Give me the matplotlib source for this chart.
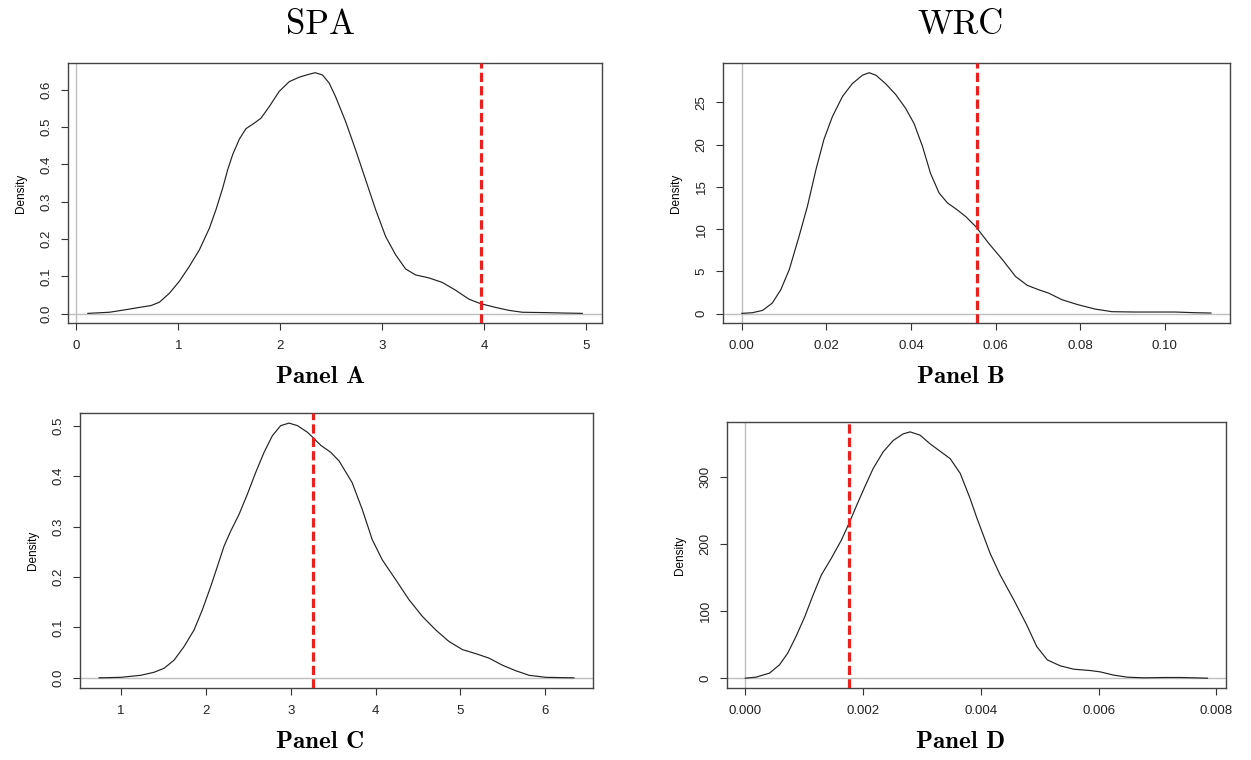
import matplotlib
matplotlib.use("Agg")
import matplotlib.pyplot as plt

plt.rcParams['font.family'] = ['Liberation Sans', 'DejaVu Sans']

# density curves
a_x = [0.114, 0.326, 0.489, 0.62, 0.734, 0.816, 0.914, 1.011, 1.109, 1.207, 1.305, 1.370,
       1.436, 1.485, 1.533, 1.599, 1.664, 1.746, 1.811, 1.892, 1.990, 2.088, 2.186, 2.284,
       2.343, 2.414, 2.480, 2.542, 2.641, 2.739, 2.837, 2.935, 3.033, 3.131, 3.229, 3.327,
       3.458, 3.588, 3.719, 3.850, 3.964, 4.111, 4.242, 4.373, 4.601, 4.765, 4.961]
a_y = [0.001, 0.004, 0.011, 0.017, 0.022, 0.031, 0.055, 0.087, 0.127, 0.171, 0.229, 0.279,
       0.337, 0.386, 0.426, 0.468, 0.496, 0.511, 0.524, 0.555, 0.596, 0.622, 0.634, 0.642,
       0.646, 0.640, 0.618, 0.582, 0.515, 0.439, 0.359, 0.279, 0.207, 0.158, 0.120, 0.104,
       0.096, 0.084, 0.063, 0.039, 0.027, 0.017, 0.009, 0.004, 0.003, 0.002, 0.001]
a_line = 3.966

b_x = [0.0, 0.0025, 0.0049, 0.0072, 0.0092, 0.0112, 0.0135, 0.0155, 0.0175, 0.0194, 0.0214,
       0.0238, 0.0261, 0.0285, 0.0301, 0.0317, 0.034, 0.0364, 0.0387, 0.0407, 0.0427, 0.0446,
       0.0466, 0.0486, 0.0506, 0.0529, 0.0553, 0.0584, 0.0616, 0.0647, 0.0675, 0.0702,
       0.0725, 0.0757, 0.0795, 0.0835, 0.0875, 0.0929, 0.0976, 0.1024, 0.1071, 0.1109]
b_y = [0.04, 0.12, 0.39, 1.26, 2.83, 5.2, 9.1, 12.7, 17.0, 20.6, 23.3, 25.7, 27.2, 28.2, 28.5,
       28.2, 27.2, 25.9, 24.3, 22.5, 19.8, 16.6, 14.3, 13.1, 12.4, 11.5, 10.3, 8.3, 6.4, 4.4,
       3.35, 2.83, 2.44, 1.65, 1.06, 0.55, 0.24, 0.20, 0.20, 0.20, 0.12, 0.08]
b_line = 0.0557

c_x = [0.741, 0.996, 1.232, 1.389, 1.507, 1.625, 1.743, 1.861, 1.959, 2.057, 2.136, 2.214,
       2.293, 2.391, 2.489, 2.587, 2.686, 2.784, 2.882, 2.980, 3.079, 3.196, 3.259, 3.354,
       3.472, 3.570, 3.606, 3.724, 3.843, 3.961, 4.079, 4.236, 4.394, 4.551, 4.709, 4.866,
       5.024, 5.181, 5.339, 5.496, 5.654, 5.811, 6.008, 6.339]
c_y = [0.0, 0.001, 0.005, 0.011, 0.019, 0.035, 0.062, 0.095, 0.135, 0.181, 0.221, 0.261,
       0.291, 0.324, 0.364, 0.407, 0.447, 0.480, 0.500, 0.505, 0.500, 0.487, 0.477, 0.461,
       0.447, 0.430, 0.420, 0.387, 0.334, 0.274, 0.234, 0.195, 0.155, 0.122, 0.095, 0.072,
       0.056, 0.048, 0.039, 0.025, 0.014, 0.005, 0.001, 0.0]
c_line = 3.259

d_x = [0.0, 0.00018, 0.00041, 0.00058, 0.00072, 0.00086, 0.00101, 0.00115, 0.00129,
       0.00146, 0.00163, 0.00176, 0.00189, 0.00203, 0.00217, 0.00234, 0.00251, 0.00268,
       0.0028, 0.00297, 0.00314, 0.00331, 0.00348, 0.00365, 0.00382, 0.00393, 0.00416,
       0.00433, 0.00456, 0.00478, 0.00495, 0.00513, 0.00535, 0.00558, 0.00586, 0.00603,
       0.00626, 0.00649, 0.00677, 0.00711, 0.0074, 0.00763, 0.00785]
d_y = [0.0, 1.5, 7.5, 19.9, 37.3, 62.1, 91.9, 124, 154, 179, 206, 231, 258, 286, 313, 338,
       355, 365, 368, 363, 350, 339, 328, 306, 268, 240, 186, 154, 117, 79.5, 47.2, 27.3,
       18.4, 13.4, 11.4, 9.4, 4.5, 1.5, 0.5, 1.0, 1.0, 0.5, 0.0]
d_line = 0.00176

a_xt = [0, 1, 2, 3, 4, 5]
a_yt = [0.0, 0.1, 0.2, 0.3, 0.4, 0.5, 0.6]
b_xt = [0.0, 0.02, 0.04, 0.06, 0.08, 0.10]
b_yt = [0, 5, 10, 15, 20, 25]
c_xt = [1, 2, 3, 4, 5, 6]
c_yt = [0.0, 0.1, 0.2, 0.3, 0.4, 0.5]
d_xt = [0.0, 0.002, 0.004, 0.006, 0.008]
d_yt = [0, 100, 200, 300]

panels = [
    (a_x, a_y, a_line, a_xt, a_yt, '{:.0f}', '{:.1f}', [0.0544, 0.575, 0.4269, 0.342]),
    (b_x, b_y, b_line, b_xt, b_yt, '{:.2f}', '{:.0f}', [0.578, 0.575, 0.405, 0.342]),
    (c_x, c_y, c_line, c_xt, c_yt, '{:.0f}', '{:.1f}', [0.064, 0.0947, 0.410, 0.362]),
    (d_x, d_y, d_line, d_xt, d_yt, '{:.3f}', '{:.0f}', [0.581, 0.0947, 0.399, 0.350]),
]

fig = plt.figure(figsize=(12.51, 7.6), dpi=100)

for xs, ys, vline, xt, yt, xf, yf, pos in panels:
    ax = fig.add_axes(pos)
    ax.axhline(0, color='#BEBEBE', lw=1.0, zorder=1)
    ax.axvline(0, color='#BEBEBE', lw=1.0, zorder=1)
    ax.plot(xs, ys, color='#222222', lw=0.85, zorder=2)
    ax.axvline(vline, color='#E8201E', lw=2.3, dashes=(2.9, 1.3), zorder=3)
    # R style 4% extension
    xr = max(xs) - min(xs)
    yr = max(ys) - min(ys)
    ax.set_xlim(min(xs) - 0.04 * xr, max(xs) + 0.04 * xr)
    ax.set_ylim(min(ys) - 0.04 * yr, max(ys) + 0.04 * yr)
    ax.set_xticks(xt)
    ax.set_xticklabels([xf.format(v) for v in xt])
    ax.set_yticks(yt)
    ax.set_yticklabels([yf.format(v) for v in yt], rotation=90, va='center')
    ax.tick_params(axis='both', direction='out', length=5, width=0.8, colors='#333333',
                   labelsize=9.5, labelcolor='#222222')
    ax.tick_params(axis='x', pad=7)
    ax.tick_params(axis='y', pad=6)
    for s in ax.spines.values():
        s.set_color('#444444')
        s.set_linewidth(1.0)
    ax.set_ylabel('Density', fontsize=8.5, labelpad=10)

fig.text(320 / 1251, 1 - 25 / 760, 'SPA', family='cmr10', fontsize=25, ha='center', va='center')
fig.text(961 / 1251, 1 - 25 / 760, 'WRC', family='cmr10', fontsize=25, ha='center', va='center')
fig.text(320 / 1251, 1 - 377 / 760, 'Panel A', family='cmb10', fontsize=18, ha='center', va='center')
fig.text(961 / 1251, 1 - 377 / 760, 'Panel B', family='cmb10', fontsize=18, ha='center', va='center')
fig.text(320 / 1251, 1 - 742 / 760, 'Panel C', family='cmb10', fontsize=18, ha='center', va='center')
fig.text(961 / 1251, 1 - 742 / 760, 'Panel D', family='cmb10', fontsize=18, ha='center', va='center')

fig.savefig('out.png', dpi=100)
